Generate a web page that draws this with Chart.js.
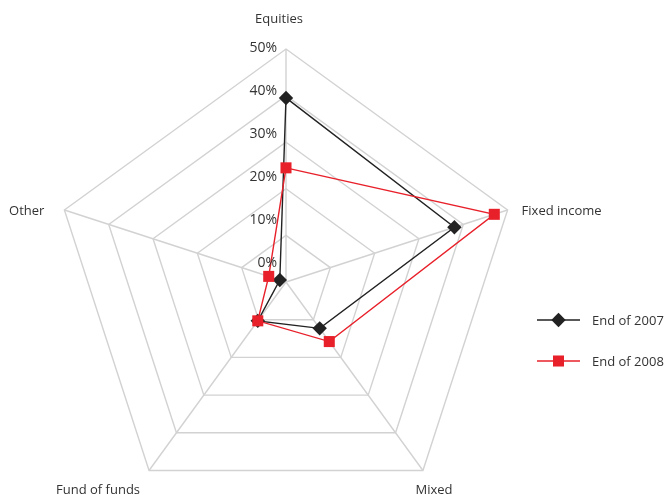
<!DOCTYPE html>
<html>
<head>
<meta charset="utf-8">
<script src="https://cdn.jsdelivr.net/npm/chart.js@4.4.1/dist/chart.umd.min.js"></script>
<style>
  html, body { margin: 0; padding: 0; background: #ffffff; overflow: hidden; }
  #wrap { width: 666px; height: 495px; position: relative; overflow: hidden; }
  #c { display: block; }
</style>
</head>
<body>
<div id="wrap"><canvas id="c" width="666" height="515"></canvas></div>
<script>
// Asset allocation by fund category, share of total (%)
const categories = ['Equities', 'Fixed income', 'Mixed', 'Fund of funds', 'Other'];
const seriesNames = ['End of 2007', 'End of 2008'];
const end2007 = [39.5, 38, 12.3, 10.3, 1.4];
const end2008 = [24.5, 47, 15.8, 10.3, 3.9];
const tickValues = [0, 10, 20, 30, 40, 50];
const tickLabels = ['0%', '10%', '20%', '30%', '40%', '50%'];

const FONT = '13px "Open Sans", "DejaVu Sans", sans-serif';
const TICK_FONT = '14px "Open Sans", "DejaVu Sans", sans-serif';
const TEXT = '#333333';
const GRID = '#d2d2d2';

// placement of each category name relative to its spoke end: [dx, dy, align]
const catPlacement = [
  [-7, -30, 'center'],
  [14, 1, 'left'],
  [11, 20, 'center'],
  [-9, 20, 'right'],
  [-20, 1, 'right']
];

const seriesStyles = [
  { color: '#222222', pointStyle: 'rectRot', radius: 7.2 },
  { color: '#e8202a', pointStyle: 'rect', radius: 7.8 }
];

function markerOpts(s) {
  return { pointStyle: s.pointStyle, radius: s.radius, rotation: 0, borderWidth: 0 };
}

const radarText = {
  id: 'radarText',
  afterDraw(chart) {
    const r = chart.scales.r;
    const ctx = chart.ctx;
    ctx.save();
    ctx.font = FONT;
    ctx.fillStyle = TEXT;
    ctx.textBaseline = 'middle';

    // category names at the outer ends of the spokes
    categories.forEach((name, i) => {
      const p = r.getPointPosition(i, r.drawingArea);
      const [dx, dy, align] = catPlacement[i];
      ctx.textAlign = align;
      ctx.fillText(name, p.x + dx, p.y + dy);
    });

    // value labels beside the vertical spoke
    ctx.font = TICK_FONT;
    const top = r.getPointPositionForValue(0, tickValues[tickValues.length - 1]);
    const pitch = (r.getDistanceFromCenterForValue(10) - r.getDistanceFromCenterForValue(0)) / 10 * 0.923;
    ctx.textAlign = 'right';
    tickValues.forEach((v, k) => {
      const y = top.y - 1 + (tickValues[tickValues.length - 1] - v) * pitch;
      ctx.fillText(tickLabels[k], r.xCenter - 9, y);
    });

    // legend: line with marker, then series name
    ctx.font = FONT;
    const lx = 537, lw = 43, rowY = [320, 361];
    chart.data.datasets.forEach((ds, i) => {
      const s = seriesStyles[i];
      const y = rowY[i];
      ctx.strokeStyle = s.color;
      ctx.lineWidth = 1.5;
      ctx.beginPath();
      ctx.moveTo(lx, y);
      ctx.lineTo(lx + lw, y);
      ctx.stroke();
      ctx.fillStyle = s.color;
      Chart.helpers.drawPoint(ctx, markerOpts(s), lx + lw / 2, y);
      ctx.fillStyle = TEXT;
      ctx.textAlign = 'left';
      ctx.fillText(ds.label, lx + lw + 12, y + 1);
    });
    ctx.restore();
  }
};

function dataset(label, values, s, order) {
  return {
    label: label,
    data: values,
    order: order,
    fill: false,
    tension: 0,
    borderColor: s.color,
    borderWidth: 1.4,
    backgroundColor: s.color,
    pointStyle: s.pointStyle,
    pointRadius: s.radius,
    pointHoverRadius: s.radius,
    pointBackgroundColor: s.color,
    pointBorderColor: s.color,
    pointBorderWidth: 0
  };
}

new Chart(document.getElementById('c'), {
  type: 'radar',
  data: {
    labels: categories,
    datasets: [
      dataset(seriesNames[0], end2007, seriesStyles[0], 1),
      dataset(seriesNames[1], end2008, seriesStyles[1], 0)
    ]
  },
  options: {
    responsive: false,
    animation: false,
    devicePixelRatio: 1,
    layout: { padding: { left: 53, right: 147, top: 49, bottom: 0 } },
    plugins: {
      legend: { display: false },
      tooltip: { enabled: false }
    },
    scales: {
      r: {
        min: 0,
        max: 50,
        startAngle: 0,
        ticks: { display: false, stepSize: 10 },
        pointLabels: { display: false },
        grid: { color: GRID, lineWidth: 1.4 },
        angleLines: { color: GRID, lineWidth: 1.4 }
      }
    }
  },
  plugins: [radarText]
});
</script>
</body>
</html>
